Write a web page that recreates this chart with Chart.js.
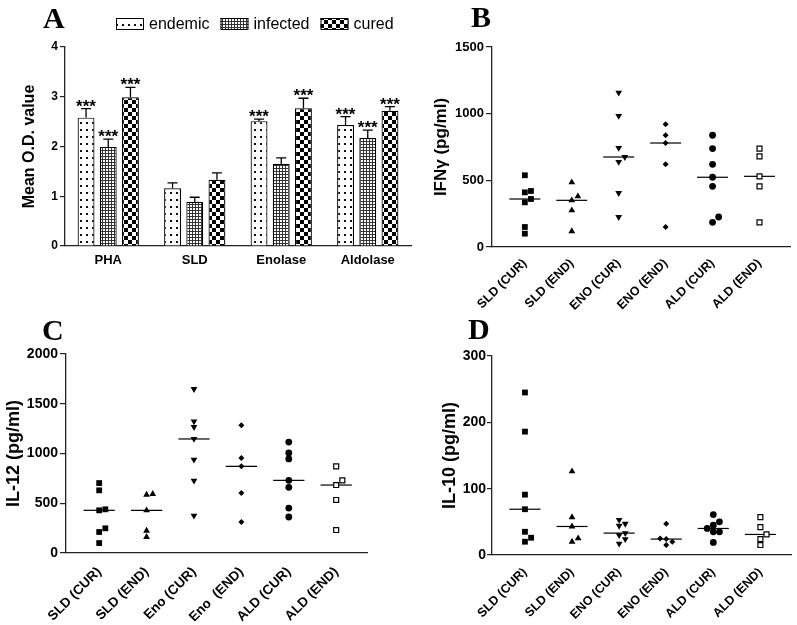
<!DOCTYPE html>
<html>
<head>
<meta charset="utf-8">
<script src="https://cdn.jsdelivr.net/npm/chart.js@4.4.1/dist/chart.umd.min.js"></script>
<style>
  body { margin: 0; background: #fff; }
  #fig { position: relative; width: 797px; height: 625px; overflow: hidden; background: #fff; }
  #fig canvas { position: absolute; }
  .tag { position: absolute; font: bold 30px 'Times New Roman', 'Liberation Serif', serif; line-height: 30px; color: #000; }
</style>
</head>
<body>
<div id="fig">
  <canvas id="chartA" width="420" height="300" style="left:0;top:0"></canvas>
  <canvas id="chartB" width="397" height="320" style="left:400px;top:0"></canvas>
  <canvas id="chartC" width="400" height="305" style="left:0;top:320px"></canvas>
  <canvas id="chartD" width="397" height="305" style="left:400px;top:320px"></canvas>
  <div class="tag" style="left:43px;top:3px">A</div>
  <div class="tag" style="left:471px;top:2px">B</div>
  <div class="tag" style="left:42px;top:315px">C</div>
  <div class="tag" style="left:468px;top:314px">D</div>
</div>
<script>
const FONT = "Arial, 'Liberation Sans', sans-serif";
const INK = '#222';

// ---- Panel A: mean O.D. per antigen ----
const antigens = ['PHA', 'SLD', 'Enolase', 'Aldolase'];
const odTicks = [0, 1, 2, 3, 4];
const endemicOD = [2.58, 1.16, 2.51, 2.43];
const infectedOD = [1.99, 0.89, 1.65, 2.17];
const curedOD = [2.99, 1.33, 2.77, 2.72];
const endemicErr = [0.18, 0.11, 0.04, 0.17];
const infectedErr = [0.16, 0.09, 0.12, 0.16];
const curedErr = [0.20, 0.14, 0.20, 0.08];
const endemicSig = ['***', '', '***', '***'];
const infectedSig = ['***', '', '', '***'];
const curedSig = ['***', '', '***', '***'];

// ---- Panels B-D: cytokine levels per group ----
const groupsBD = ['SLD (CUR)', 'SLD (END)', 'ENO (CUR)', 'ENO (END)', 'ALD (CUR)', 'ALD (END)'];
const groupsC = ['SLD (CUR)', 'SLD (END)', 'Eno (CUR)', 'Eno  (END)', 'ALD (CUR)', 'ALD (END)'];

const ifnTicks = [0, 500, 1000, 1500];
const ifnValues = [
    [538, 420, 410, 360, 335, 150, 100],
    [485, 380, 350, 275, 118],
    [1158, 983, 743, 675, 638, 405, 225],
    [920, 838, 780, 620, 150],
    [838, 738, 620, 523, 455, 225, 185],
    [738, 680, 530, 455, 185]
];

const il12Ticks = [0, 500, 1000, 1500, 2000];
const il12Values = [
    [703, 630, 439, 429, 248, 211, 100],
    [593, 586, 429, 224, 161],
    [1648, 1323, 1266, 1146, 938, 727, 375],
    [1283, 955, 871, 603, 312],
    [1115, 1005, 945, 730, 660, 452, 362],
    [871, 730, 683, 533, 231]
];

const il10Ticks = [0, 100, 200, 300];
const il10Values = [
    [245, 186, 91, 69, 35, 26, 20],
    [126, 57, 43, 25, 20],
    [53, 47, 44, 33, 30, 24, 17],
    [47, 25, 24, 20, 15],
    [61, 50, 45, 40, 35, 35, 19],
    [57, 42, 31, 24, 15]
];

// fill patterns for the bars
function makePattern(kind) {
    const c = document.createElement('canvas');
    const g = c.getContext('2d');
    if (kind === 'dots') {
        c.width = 6; c.height = 7;
        g.fillStyle = '#fff'; g.fillRect(0, 0, 6, 7);
        g.fillStyle = '#111'; g.fillRect(2, 3, 2, 2);
    } else if (kind === 'grid') {
        c.width = 3; c.height = 3;
        g.fillStyle = '#fff'; g.fillRect(0, 0, 3, 3);
        g.fillStyle = '#333'; g.fillRect(0, 0, 3, 1); g.fillRect(0, 0, 1, 3);
    } else {
        c.width = 8; c.height = 8;
        g.fillStyle = '#fff'; g.fillRect(0, 0, 8, 8);
        g.fillStyle = '#000'; g.fillRect(0, 0, 4, 4); g.fillRect(4, 4, 4, 4);
    }
    return g.createPattern(c, 'repeat');
}

// up-only error bars plus significance stars
const errorBars = {
    id: 'errorBars',
    afterDatasetsDraw(chart) {
        const ctx = chart.ctx;
        const y = chart.scales.y;
        ctx.save();
        chart.data.datasets.forEach((ds, i) => {
            chart.getDatasetMeta(i).data.forEach((bar, j) => {
                const top = y.getPixelForValue(ds.data[j] + ds.errors[j]);
                ctx.strokeStyle = '#000';
                ctx.lineWidth = 1.3;
                ctx.beginPath();
                ctx.moveTo(bar.x, bar.y);
                ctx.lineTo(bar.x, top);
                ctx.moveTo(bar.x - 5, top);
                ctx.lineTo(bar.x + 5, top);
                ctx.stroke();
                if (ds.stars[j]) {
                    ctx.fillStyle = '#000';
                    ctx.font = 'bold 17px ' + FONT;
                    ctx.textAlign = 'center';
                    ctx.textBaseline = 'alphabetic';
                    ctx.fillText(ds.stars[j], bar.x, top + 3);
                }
            });
        });
        ctx.restore();
    }
};

// legend row above panel A
const legendRow = {
    id: 'legendRow',
    afterDraw(chart) {
        const ctx = chart.ctx;
        ctx.save();
        ctx.font = '16px ' + FONT;
        ctx.textBaseline = 'alphabetic';
        let x = 116;
        chart.data.datasets.forEach(ds => {
            ctx.fillStyle = ds.backgroundColor;
            ctx.fillRect(x, 18, 28, 11);
            ctx.strokeStyle = '#000';
            ctx.lineWidth = 1;
            ctx.strokeRect(x + 0.5, 18.5, 27, 11);
            ctx.fillStyle = '#000';
            ctx.fillText(ds.label, x + 33, 29);
            x += 33 + ctx.measureText(ds.label).width + 11;
        });
        ctx.restore();
    }
};

new Chart(document.getElementById('chartA'), {
    type: 'bar',
    data: {
        labels: antigens,
        datasets: [
            { label: 'endemic', data: endemicOD, errors: endemicErr, stars: endemicSig, backgroundColor: makePattern('dots') },
            { label: 'infected', data: infectedOD, errors: infectedErr, stars: infectedSig, backgroundColor: makePattern('grid') },
            { label: 'cured', data: curedOD, errors: curedErr, stars: curedSig, backgroundColor: makePattern('checker') }
        ].map(ds => Object.assign(ds, {
            borderColor: '#000', borderWidth: 1.2, categoryPercentage: 0.77, barPercentage: 0.76
        }))
    },
    options: {
        responsive: false,
        animation: false,
        devicePixelRatio: 1,
        events: [],
        layout: { padding: { left: 0, top: 47, right: 9, bottom: 0 } },
        plugins: { legend: { display: false }, tooltip: { enabled: false } },
        scales: {
            x: {
                grid: { display: false, drawTicks: false },
                border: { color: INK, width: 1.3 },
                ticks: { color: '#000', font: { family: FONT, size: 13, weight: 'bold' }, padding: 7 },
                afterFit: s => { s.height = 54; }
            },
            y: {
                min: 0, max: odTicks[odTicks.length - 1],
                afterBuildTicks: s => { s.ticks = odTicks.map(v => ({ value: v })); },
                grid: { drawOnChartArea: false, drawTicks: true, tickLength: 5, color: INK, lineWidth: 1.2 },
                border: { color: INK, width: 1.3 },
                ticks: { color: '#000', font: { family: FONT, size: 12, weight: 'bold' }, padding: 2, callback: v => String(v) },
                title: { display: true, text: 'Mean O.D. value', color: '#000',
                         font: { family: FONT, size: 16, weight: 'bold' }, padding: { top: 20, bottom: 0 } },
                afterFit: s => { s.width = 65; }
            }
        }
    },
    plugins: [errorBars, legendRow]
});

// ---- scatter panels ----
const markers = [
    { pointStyle: 'rect', radius: 4.1, fill: '#000', rotation: 0 },
    { pointStyle: 'triangle', radius: 3.9, fill: '#000', rotation: 0 },
    { pointStyle: 'triangle', radius: 3.9, fill: '#000', rotation: 180 },
    { pointStyle: 'rectRot', radius: 3, fill: '#000', rotation: 0 },
    { pointStyle: 'circle', radius: 3.4, fill: '#000', rotation: 0 },
    { pointStyle: 'rect', radius: 3.5, fill: '#fff', rotation: 0 }
];

function median(vals) {
    const s = [...vals].sort((a, b) => a - b);
    const m = s.length >> 1;
    return s.length % 2 ? s[m] : (s[m - 1] + s[m]) / 2;
}

// spread overlapping points sideways, like a column scatter
function dodge(vals, thr) {
    const order = vals.map((v, i) => i).sort((a, b) => vals[a] - vals[b]);
    const slots = [0, 1, -1, 2, -2, 3, -3];
    const placed = [];
    const out = new Array(vals.length).fill(0);
    order.forEach(i => {
        const s = slots.find(sl => !placed.some(p => p.s === sl && Math.abs(p.v - vals[i]) < thr));
        placed.push({ s: s, v: vals[i] });
        out[i] = s;
    });
    return out;
}

function cytokineChart(id, groups, values, ticks, title, box) {
    const top = ticks[ticks.length - 1];
    const thr = top / 36;
    const datasets = [];
    values.forEach((vals, g) => {
        const offs = dodge(vals, thr);
        const mk = markers[g];
        datasets.push({
            data: vals.map((v, k) => ({ x: g + offs[k] * 0.13, y: v })),
            pointStyle: mk.pointStyle,
            pointRadius: mk.radius,
            pointRotation: mk.rotation,
            pointBackgroundColor: mk.fill,
            pointBorderColor: '#000',
            pointBorderWidth: mk.fill === '#fff' ? 1.2 : 0,
            showLine: false,
            clip: false
        });
        const med = median(vals);
        datasets.push({
            data: [{ x: g - 0.33, y: med }, { x: g + 0.33, y: med }],
            showLine: true,
            borderColor: '#000',
            borderWidth: 1.2,
            pointRadius: 0,
            clip: false
        });
    });
    new Chart(document.getElementById(id), {
        type: 'scatter',
        data: { datasets: datasets },
        options: {
            responsive: false,
            animation: false,
            devicePixelRatio: 1,
            events: [],
            layout: { padding: { left: 0, top: box.top, right: box.right, bottom: 0 } },
            plugins: { legend: { display: false }, tooltip: { enabled: false } },
            scales: {
                x: {
                    type: 'linear',
                    min: -0.7, max: 5.65,
                    afterBuildTicks: s => { s.ticks = groups.map((_, i) => ({ value: i })); },
                    grid: { display: false, drawTicks: false },
                    border: { color: INK, width: 1.3 },
                    ticks: {
                        color: '#000', autoSkip: false, minRotation: 45, maxRotation: 45,
                        font: { family: FONT, size: box.labelSize, weight: 'bold' },
                        padding: box.labelPad,
                        callback: v => groups[v]
                    },
                    afterFit: s => { s.height = box.xHeight; }
                },
                y: {
                    min: 0, max: top,
                    afterBuildTicks: s => { s.ticks = ticks.map(v => ({ value: v })); },
                    grid: { drawOnChartArea: false, drawTicks: true, tickLength: box.tickLen, color: INK, lineWidth: 1.2 },
                    border: { color: INK, width: 1.3 },
                    ticks: { color: '#000', font: { family: FONT, size: box.tickSize, weight: 'bold' },
                             padding: box.tickPad, callback: v => String(v) },
                    title: { display: true, text: title, color: '#000',
                             font: { family: FONT, size: box.titleSize, weight: 'bold' },
                             padding: { top: box.titlePad, bottom: 0 } },
                    afterFit: s => { s.width = box.yWidth; }
                }
            }
        }
    });
}

cytokineChart('chartB', groupsBD, ifnValues, ifnTicks, 'IFNγ (pg/ml)', {
    top: 47, right: 7, yWidth: 92, xHeight: 73, titleSize: 17, titlePad: 31,
    tickSize: 13, tickLen: 6, tickPad: 2, labelSize: 12.5, labelPad: 9
});
cytokineChart('chartC', groupsC, il12Values, il12Ticks, 'IL-12 (pg/ml)', {
    top: 34, right: 33, yWidth: 66, xHeight: 72, titleSize: 18, titlePad: 3,
    tickSize: 14, tickLen: 6, tickPad: 2, labelSize: 13.5, labelPad: 11
});
cytokineChart('chartD', groupsBD, il10Values, il10Ticks, 'IL-10 (pg/ml)', {
    top: 36, right: 6, yWidth: 92, xHeight: 70, titleSize: 18, titlePad: 39,
    tickSize: 14, tickLen: 5, tickPad: 1, labelSize: 12.5, labelPad: 10
});
</script>
</body>
</html>
